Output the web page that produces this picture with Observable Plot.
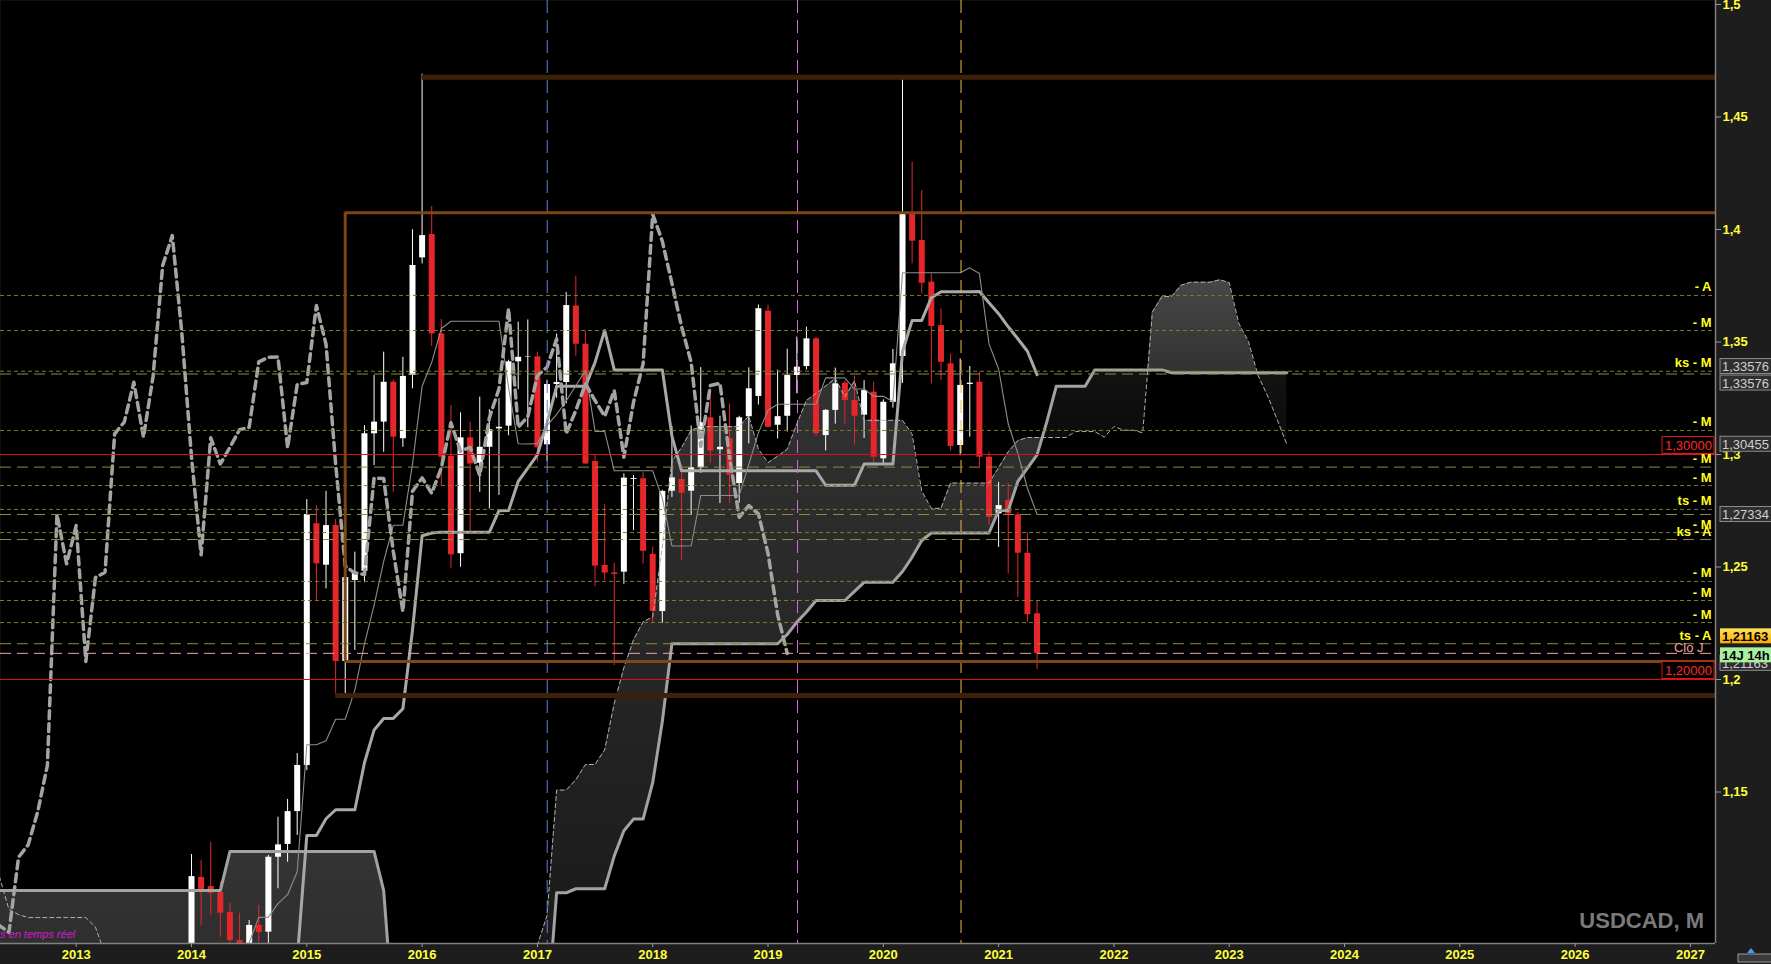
<!DOCTYPE html>
<html lang="fr">
<head>
<meta charset="utf-8">
<title>USDCAD, M</title>
<script src="https://cdn.jsdelivr.net/npm/d3@7"></script>
<script src="https://cdn.jsdelivr.net/npm/@observablehq/plot@0.6"></script>
<style>
  html, body { margin: 0; padding: 0; background: #1d1d1d; overflow: hidden; }
  #chart svg { display: block; }
</style>
</head>
<body>
<div id="chart"></div>
<script>
// ================= DATA =================
const firstYear = 2014; // first visible monthly candle = January 2014

const open = [
  1.0630,1.1120,1.1080,1.1053,1.0964,1.0840,1.0670,1.0907,1.0877,1.1210,1.1267,1.1413,
  1.1618,1.2692,1.2508,1.2684,1.2080,1.2440,1.2481,1.3092,1.3144,1.3321,1.3070,1.3351,
  1.3874,1.3978,1.3536,1.2991,1.2559,1.3074,1.2961,1.3032,1.3114,1.3126,1.3412,1.3432,
  1.3434,1.3043,1.3311,1.3320,1.3660,1.3490,1.2969,1.2507,1.2474,1.2477,1.2889,1.2892,
  1.2556,1.2302,1.2837,1.2889,1.2837,1.2941,1.3163,1.3021,1.3070,1.2871,1.3168,1.3258,
  1.3637,1.3130,1.3170,1.3351,1.3391,1.3514,1.3084,1.3196,1.3317,1.3240,1.3175,1.3277,
  1.2981,1.3232,1.3436,1.4067,1.3951,1.3766,1.3573,1.3403,1.3040,1.3311,1.3321,1.2988,
  1.2736,1.2796,1.2732,1.2561,1.2292
];
const high = [
  1.1222,1.1196,1.1276,1.1100,1.1006,1.0961,1.0929,1.0996,1.1218,1.1388,1.1467,1.1671,
  1.2800,1.2773,1.2836,1.2711,1.2563,1.2566,1.3128,1.3351,1.3455,1.3330,1.3432,1.3999,
  1.4690,1.4102,1.3600,1.3218,1.3185,1.3144,1.3255,1.3199,1.3248,1.3419,1.3588,1.3598,
  1.3455,1.3330,1.3535,1.3720,1.3793,1.3548,1.3000,1.2778,1.2517,1.2914,1.2907,1.2920,
  1.2589,1.2841,1.3125,1.2945,1.3127,1.3386,1.3291,1.3170,1.3225,1.3170,1.3385,1.3665,
  1.3664,1.3375,1.3468,1.3522,1.3566,1.3520,1.3200,1.3384,1.3329,1.3348,1.3328,1.3322,
  1.3243,1.3467,1.4665,1.4299,1.4173,1.3803,1.3647,1.3447,1.3425,1.3391,1.3366,1.3010,
  1.2876,1.2871,1.2740,1.2653,1.2351
];
const low = [
  1.0612,1.0907,1.0951,1.0855,1.0814,1.0620,1.0620,1.0811,1.0812,1.1070,1.1188,1.1307,
  1.1595,1.2351,1.2403,1.1938,1.1916,1.2129,1.2430,1.2951,1.3010,1.2832,1.3032,1.3292,
  1.3847,1.3480,1.2858,1.2495,1.2499,1.2659,1.2832,1.2758,1.2818,1.3083,1.3288,1.3119,
  1.2966,1.2969,1.3250,1.3225,1.3437,1.2955,1.2413,1.2440,1.2062,1.2423,1.2662,1.2513,
  1.2255,1.2250,1.2809,1.2527,1.2729,1.2916,1.2962,1.2782,1.2782,1.2783,1.3047,1.3220,
  1.3118,1.3069,1.3100,1.3270,1.3376,1.3080,1.3016,1.3135,1.3134,1.3042,1.3071,1.2951,
  1.2951,1.3206,1.3316,1.3848,1.3714,1.3314,1.3329,1.3015,1.2994,1.3077,1.2944,1.2684,
  1.2587,1.2470,1.2364,1.2253,1.2044
];
const close = [
  1.1124,1.1067,1.1050,1.0961,1.0840,1.0670,1.0907,1.0876,1.1210,1.1265,1.1413,1.1618,
  1.2733,1.2514,1.2684,1.2080,1.2453,1.2477,1.3092,1.3144,1.3321,1.3077,1.3347,1.3840,
  1.3973,1.3536,1.2988,1.2554,1.3074,1.2958,1.3032,1.3110,1.3121,1.3412,1.3432,1.3434,
  1.3030,1.3311,1.3320,1.3662,1.3490,1.2958,1.2504,1.2473,1.2467,1.2895,1.2893,1.2570,
  1.2302,1.2836,1.2896,1.2828,1.2941,1.3141,1.3015,1.3032,1.2907,1.3163,1.3292,1.3648,
  1.3121,1.3168,1.3351,1.3388,1.3514,1.3092,1.3196,1.3314,1.3240,1.3170,1.3284,1.2988,
  1.3232,1.3403,1.4067,1.3948,1.3761,1.3569,1.3410,1.3036,1.3307,1.3317,1.2988,1.2721,
  1.2773,1.2736,1.2561,1.2288,1.2116
];

// Tenkan-sen (thin grey), monthly values starting July 2014 (month offset 6)
const tenkanStart = 6;
const tenkan = [
  1.0830,1.0943,1.0944,1.1004,1.10435,1.11455,
  1.171,1.171,1.1728,1.18235,1.1824,1.1953,1.2158,1.2329,1.2525,1.26855,1.26855,1.29575,
  1.3303,1.34095,1.356,1.35925,1.35925,1.35925,1.35925,1.35925,1.35925,1.32985,1.30475,1.30465,
  1.30485,1.31285,1.3178,1.3239,1.33055,1.3374,1.3103,1.3103,1.29275,1.29275,1.29275,1.29275,
  1.29275,1.2805,1.25935,1.25935,1.25945,1.2818,1.2818,1.2818,1.2818,1.2818,1.29565,1.3096,
  1.3197,1.32235,1.32235,1.32235,1.32235,1.3224,1.33405,1.33405,1.334,1.3291,1.3291,1.32585,
  1.32585,1.32355,1.3808,1.3808,1.3808,1.3808,1.3808,1.3808,1.3808,1.38295,1.38045,1.34915,
  1.338,1.31365,1.30055,1.285,1.27345
];

// Kijun-sen (thick grey), monthly values starting November 2014 (month offset 10)
const kijunStart = 10;
const kijun = [
  1.0600,1.0755,
  1.1307,1.1307,1.1381,1.1421,1.1421,1.1421,1.1630,1.1775,1.1827,1.1827,1.1870,1.2220,
  1.2639,1.2651,1.2655,1.2655,1.2655,1.2655,1.2655,1.2655,1.27505,1.2751,1.288,1.2939,
  1.29985,1.31425,1.3303,1.3303,1.3303,1.3303,1.34095,1.35515,1.3376,1.3376,1.3376,1.3376,
  1.3376,1.3376,1.3082,1.29275,1.29275,1.29275,1.29275,1.29275,1.29275,1.29275,1.29275,1.29275,
  1.29275,1.29275,1.29275,1.29275,1.29275,1.29275,1.28635,1.28635,1.28635,1.28635,1.29575,1.29575,
  1.29575,1.29575,1.34575,1.3596,1.3596,1.3697,1.37235,1.37235,1.37235,1.37235,1.3724,1.36745,
  1.3626,1.35675,1.35145,1.3459,1.33545
];

// Senkou span A (thin dashed cloud edge), two visible pieces; month offsets from Jan 2014
const spanALeftStart = -20;
const spanALeft = [
  1.1125,1.0978,1.0955,1.0942,1.0942,1.0942,1.0942,1.0942,1.0942,1.0942, // -20..-11
  1.0900,1.0780                                                          // -10..-9
];
const spanARightStart = 35;
const spanARight = [
  1.0700,1.0820,1.0950,                                                  // 35..37
  1.15085,1.15085,1.15545,1.1622,1.16225,1.1687,1.1894,1.2052,1.2176,1.22563, // 38..47
  1.22778,1.25888,                                                       // 48..49
  1.2971,1.30303,1.31075,1.31238,1.31238,1.31238,1.31238,1.31238,1.31715,1.30248, // 50..59
  1.29638,1.29928,                                                       // 60..61
  1.30235,1.31355,1.32405,1.3271,1.33043,1.33385,1.32563,1.33273,1.31518,1.31518, // 62..71
  1.31518,1.31518,                                                       // 72..73
  1.31518,1.30905,1.28378,1.27605,1.2761,1.28728,1.28728,1.28728,1.28728,1.28728, // 74..83
  1.2942,1.30118,                                                        // 84..85
  1.30623,1.30755,1.30755,1.30755,1.30755,1.30755,1.3102,1.3102,1.31018,1.30773, // 86..95
  1.31243,1.3108,                                                        // 96..97
  1.3108,1.30965,1.36328,1.3702,1.3702,1.37525,1.37658,1.37658,1.37658,1.37765, // 98..107
  1.37643,1.3583,                                                        // 108..109
  1.3503,1.3352,1.326,1.31545,1.30445                                    // 110..114
];
// Senkou span B (thick cloud edge)
const spanBLeftStart = -20;
const spanBLeft = [
  1.1062,1.1062,1.1062,1.1062,1.1062,1.1062,1.1062,1.1062,1.1062,1.1062, // -20..-11
  1.1062,1.1062,1.1062,1.1062,1.1062,1.1062,1.1062,1.1062,1.1062,1.1062, // -10..-1
  1.1062,1.1062,1.1062,1.1062,                                           // 0..3
  1.1236,1.1236,1.1236,1.1236,1.1236,1.1236,1.1236,1.1236,               // 4..11
  1.1236,1.1236,1.1236,1.1236,1.1236,1.1236,1.1236,1.1236,               // 12..19
  1.1062,1.0500                                                          // 20..21
];
const spanBRightStart = 37;
const spanBRight = [
  1.0500,                                                                // 37
  1.1052,1.1052,1.1070,1.1070,1.1070,1.1070,1.1216,1.13275,1.13795,1.13795, // 38..47
  1.15415,1.18135,                                                       // 48..49
  1.2159,1.2159,1.2159,1.2159,1.2159,1.2159,1.2159,1.2159,1.2159,1.2159, // 50..59
  1.2159,1.2159,                                                         // 60..61
  1.2200,1.2255,1.2300,1.2351,1.2351,1.2351,1.2351,1.2392,1.2432,1.2432, // 62..71
  1.2432,1.2432,                                                         // 72..73
  1.2480,1.2544,1.2618,1.2651,1.2651,1.2651,1.2651,1.2651,1.2651,1.2651, // 74..83
  1.2751,1.2751,                                                         // 84..85
  1.2880,1.2939,1.29985,1.31425,1.3303,1.3303,1.3303,1.3303,1.3376,1.3376, // 86..95
  1.3376,1.3376,1.3376,1.3376,1.3376,1.3376,                             // 96..101
  1.33635,1.33635,1.33635,1.33635,1.33635,1.33635,1.33635,1.33635,1.33635,1.33635, // 102..111
  1.33635,1.33635,1.33635                                                // 112..114
];
// points where the two spans cross (cloud twists), [month offset, price]
const cloudTwists = [[88.53, 1.30755], [99.52, 1.3376], [110.92, 1.33635]];
// cloud pieces; "floor" pieces are shaded from span B down to the bottom of the chart
const cloudSegments = [
  {from: -20, to: 21, top: "#343434", bottom: "#2a2a2a", floor: true},
  {from: 35, to: 88.53, top: "#323232", bottom: "#171717", floor: false},
  {from: 88.53, to: 99.52, top: "#121212", bottom: "#0c0c0c", floor: false},
  {from: 99.52, to: 110.92, top: "#474747", bottom: "#323232", floor: false},
  {from: 110.92, to: 114, top: "#121212", bottom: "#0c0c0c", floor: false}
];

// horizontal level lines with their right-hand labels
const shortLevels = [1.3707, 1.3551, 1.3370, 1.3107, 1.2862, 1.2756, 1.2653, 1.2436, 1.2351, 1.2253];
const longLevels = [1.33576, 1.2944, 1.27334, 1.2622, 1.2159];
const levelLabels = [
  {v: 1.3707, label: "- A"}, {v: 1.3551, label: "- M"}, {v: 1.3370, label: "ks - M"},
  {v: 1.3107, label: "- M"}, {v: 1.2944, label: "- M"}, {v: 1.2862, label: "- M"},
  {v: 1.2756, label: "ts - M"}, {v: 1.2653, label: "- M"}, {v: 1.2622, label: "ks - A"},
  {v: 1.2436, label: "- M"}, {v: 1.2351, label: "- M"}, {v: 1.2253, label: "- M"},
  {v: 1.2159, label: "ts - A"}
];
const lastClose = 1.21163;
const redLevels = [1.30, 1.20];
const redBoxes = [{v: 1.30, label: "1,30000"}, {v: 1.20, label: "1,20000"}];

// brown support / resistance drawing
const darkBrownLines = [{y: 1.4677, from: 2016.0}, {y: 1.1929, from: 2015.25}];
const brownBox = {left: 2015.333, top: 1.4074, bottom: 1.2080};

// vertical dashed markers
const markers = [
  {t: 2017.085, color: "#6080e0"},
  {t: 2019.256, color: "#d070e0"},
  {t: 2020.674, color: "#f0b848"}
];

// axis panel price tags
const priceTags = [
  {v: 1.33576, label: "1,33576", kind: "gray", off: -7.5},
  {v: 1.33576, label: "1,33576", kind: "gray", off: 9},
  {v: 1.30455, label: "1,30455", kind: "gray", off: 0},
  {v: 1.27334, label: "1,27334", kind: "gray", off: 0},
  {v: 1.21163, label: "1,21163", kind: "gray", off: 10},
  {v: 1.21163, label: "1,21163", kind: "yellow", off: -17},
  {v: 1.21163, label: "14J 14h", kind: "green", off: 2}
];

const yTicks = [1.15, 1.2, 1.25, 1.3, 1.35, 1.4, 1.45, 1.5];
const yearTicks = [2013,2014,2015,2016,2017,2018,2019,2020,2021,2022,2023,2024,2025,2026,2027];

// ================= BUILD =================
const X0 = 2012.3434, X1 = 2027.2176;
const Y0 = 1.082667, Y1 = 1.501778;
const FONT = "'Liberation Sans', Arial, Helvetica, sans-serif";
const tOf = d => firstYear + d / 12;

const candles = open.map((o, i) => ({
  t: tOf(i), o, h: high[i], l: low[i], c: close[i],
  col: close[i] >= o ? "#ffffff" : "#e6262b"
}));
const chikou = close.map((c, i) => ({t: tOf(i - 26), c}));
const tenkanRows = tenkan.map((v, i) => ({t: tOf(tenkanStart + i), v}));
const kijunRows = kijun.map((v, i) => ({t: tOf(kijunStart + i), v}));
const pieceRows = (start, vals) => vals.map((v, i) => ({d: start + i, t: tOf(start + i), v}));
const aLeft = pieceRows(spanALeftStart, spanALeft), aRight = pieceRows(spanARightStart, spanARight);
const bLeft = pieceRows(spanBLeftStart, spanBLeft), bRight = pieceRows(spanBRightStart, spanBRight);

// cloud table: one row per month offset, with both spans
const byD = new Map();
for (const r of aLeft.concat(aRight)) byD.set(r.d, {d: r.d, a: r.v, b: null});
for (const r of bLeft.concat(bRight)) {
  const row = byD.get(r.d) || {d: r.d, a: null, b: null};
  row.b = r.v; byD.set(r.d, row);
}
for (const [d, v] of cloudTwists) byD.set(d, {d, a: v, b: v});
const cloudRows = Array.from(byD.values()).sort((p, q) => p.d - q.d);
const below = Y0 - 0.03;
const placeholder = k => `#a1b2c${k}`;
const cloudMarks = cloudSegments.map((seg, k) => {
  const rows = cloudRows
    .filter(r => r.d >= seg.from - 1e-6 && r.d <= seg.to + 1e-6)
    .map(r => ({
      t: tOf(r.d),
      lo: seg.floor || r.a == null ? below : r.a,
      hi: r.b == null ? below : r.b
    }));
  // unique placeholder colour, swapped for a gradient afterwards
  return Plot.areaY(rows, {x: "t", y1: "lo", y2: "hi", fill: placeholder(k), clip: true});
});

const fmtComma = d => String(d).replace(".", ",");

const chart = Plot.plot({
  width: 1771,
  height: 964,
  marginTop: 0,
  marginRight: 56,
  marginBottom: 21,
  marginLeft: 0,
  style: {background: "#1d1d1d", fontFamily: FONT},
  x: {domain: [X0, X1], label: null},
  y: {domain: [Y0, Y1], label: null},
  marks: [
    Plot.frame({fill: "black", stroke: null}),
    ...cloudMarks,
    // candles
    Plot.ruleX(candles, {x: "t", y1: "l", y2: "h", stroke: "col", strokeWidth: 1, clip: true}),
    Plot.ruleX(candles, {x: "t", y1: "o", y2: "c", stroke: "col", strokeWidth: 6, clip: true}),
    // Ichimoku lines
    Plot.line(aLeft, {x: "t", y: "v", stroke: "#b0b0b0", strokeWidth: 1, strokeDasharray: "4,3", clip: true}),
    Plot.line(aRight, {x: "t", y: "v", stroke: "#b0b0b0", strokeWidth: 1, strokeDasharray: "4,3", clip: true}),
    Plot.line(bLeft, {x: "t", y: "v", stroke: "#a2a2a2", strokeWidth: 3, clip: true}),
    Plot.line(bRight, {x: "t", y: "v", stroke: "#a2a2a2", strokeWidth: 3, clip: true}),
    Plot.line(kijunRows, {x: "t", y: "v", stroke: "#a8a8a8", strokeWidth: 3, clip: true}),
    Plot.line(tenkanRows, {x: "t", y: "v", stroke: "#8e8e8e", strokeWidth: 1.1, clip: true}),
    Plot.line(chikou, {x: "t", y: "c", stroke: "#a4a4a4", strokeWidth: 3.5, strokeDasharray: "8,5", clip: true}),
    // vertical markers
    Plot.ruleX(markers, {x: "t", stroke: "color", strokeWidth: 1, strokeDasharray: "13,7"}),
    // level lines
    Plot.ruleY(shortLevels, {stroke: "#7c7c30", strokeWidth: 1, strokeDasharray: "4,3"}),
    Plot.ruleY(longLevels, {stroke: "#8e8e3c", strokeWidth: 1, strokeDasharray: "11,6"}),
    Plot.ruleY([lastClose], {stroke: "#f2a3a3", strokeWidth: 1, strokeDasharray: "11,6"}),
    Plot.ruleY(redLevels, {stroke: "#d41414", strokeWidth: 1}),
    // brown drawing
    Plot.ruleY(darkBrownLines, {y: "y", x1: "from", x2: () => X1, stroke: "#3e2008", strokeWidth: 5}),
    Plot.ruleY([brownBox], {y: "top", x1: "left", x2: () => X1, stroke: "#7e4614", strokeWidth: 3}),
    Plot.ruleY([brownBox], {y: "bottom", x1: "left", x2: () => X1, stroke: "#7e4614", strokeWidth: 3}),
    Plot.ruleX([brownBox], {x: "left", y1: "bottom", y2: "top", stroke: "#7e4614", strokeWidth: 3}),
    // level labels
    Plot.text(levelLabels, {x: () => X1, y: "v", text: "label", textAnchor: "end", lineAnchor: "bottom",
      dx: -4, dy: -4, fill: "#ffff1a", fontWeight: "bold", fontSize: 13}),
    Plot.text([lastClose], {x: () => X1, y: d => d, text: () => "Clo J", textAnchor: "end", lineAnchor: "bottom",
      dx: -12, dy: -1, fill: "#f4a0a0", fontSize: 13}),
    // frame borders
    Plot.ruleX([X1], {stroke: "#808080", strokeWidth: 1.5}),
    Plot.ruleY([Y0], {stroke: "#808080", strokeWidth: 1.5}),
    // axes
    Plot.axisY({ticks: yTicks, anchor: "right", tickFormat: fmtComma, tickSize: 5, tickPadding: 2,
      stroke: "#9a9a9a", fill: "#ffff3c", fontSize: 13, fontWeight: "bold", label: null}),
    Plot.axisX({ticks: yearTicks, tickFormat: d => String(d), tickSize: 4, tickPadding: 2,
      stroke: "#9a9a9a", fill: "#ffff3c", fontSize: 13, fontWeight: "bold", label: null})
  ]
});

document.getElementById("chart").appendChild(chart);

// ================= gradients & annotations drawn from the scales =================
const svg = d3.select(chart);
const defs = svg.append("defs");
cloudSegments.forEach((seg, k) => {
  const g = defs.append("linearGradient").attr("id", `cloud${k}`)
    .attr("x1", 0).attr("y1", 0).attr("x2", 0).attr("y2", 1);
  g.append("stop").attr("offset", "0%").attr("stop-color", seg.top);
  g.append("stop").attr("offset", "100%").attr("stop-color", seg.bottom);
  svg.selectAll(`[fill="${placeholder(k)}"]`).attr("fill", `url(#cloud${k})`);
});
const grad = defs.append("linearGradient").attr("id", "tagYellow").attr("x1", 0).attr("y1", 0).attr("x2", 0).attr("y2", 1);
grad.append("stop").attr("offset", "0%").attr("stop-color", "#ffe45a");
grad.append("stop").attr("offset", "100%").attr("stop-color", "#ffa800");

const yS = chart.scale("y"), xS = chart.scale("x");
const right = xS.apply(X1);
const ann = svg.append("g").attr("font-family", FONT).attr("text-anchor", "start");

for (const r of redBoxes) {
  const yy = yS.apply(r.v);
  ann.append("rect").attr("x", right - 53).attr("y", yy - 17.5).attr("width", 52).attr("height", 17)
    .attr("fill", "#000").attr("stroke", "#e01414").attr("stroke-width", 1);
  ann.append("text").attr("x", right - 50).attr("y", yy - 4).attr("fill", "#ff2828")
    .attr("font-size", 13).text(r.label);
}

for (const p of priceTags) {
  const cy = yS.apply(p.v) + p.off;
  const fill = p.kind === "yellow" ? "url(#tagYellow)" : p.kind === "green" ? "#a6f0a0" : "#2f2f2f";
  const stroke = p.kind === "gray" ? "#8c8c8c" : "none";
  const tcol = p.kind === "gray" ? "#cfcfcf" : "#000";
  ann.append("rect").attr("x", right + 5).attr("y", cy - 7.5).attr("width", 52).attr("height", 15)
    .attr("fill", fill).attr("stroke", stroke);
  ann.append("text").attr("x", right + 7).attr("y", cy + 5).attr("fill", tcol)
    .attr("font-size", 13).attr("font-weight", p.kind === "gray" ? "normal" : "bold").text(p.label);
}

// symbol watermark
ann.append("text").attr("x", right - 11).attr("y", yS.apply(Y0) - 15).attr("text-anchor", "end")
  .attr("fill", "#7a7a7a").attr("font-size", 22).attr("font-weight", "bold").text("USDCAD, M");

// realtime note (clipped at the left edge in the original)
ann.append("text").attr("x", 0).attr("y", yS.apply(Y0) - 5).attr("fill", "#d21ad2")
  .attr("font-size", 11).attr("font-style", "italic").text("s en temps réel");

// small toolbar icon bottom right
const ic = ann.append("g");
ic.append("rect").attr("x", right + 23).attr("y", 954).attr("width", 34).attr("height", 8)
  .attr("fill", "#3a3a3a").attr("stroke", "#9a9a9a");
ic.append("path").attr("d", `M${right + 32},953 l4,-5 l4,5 z`).attr("fill", "#3aa0ff");
</script>
</body>
</html>
